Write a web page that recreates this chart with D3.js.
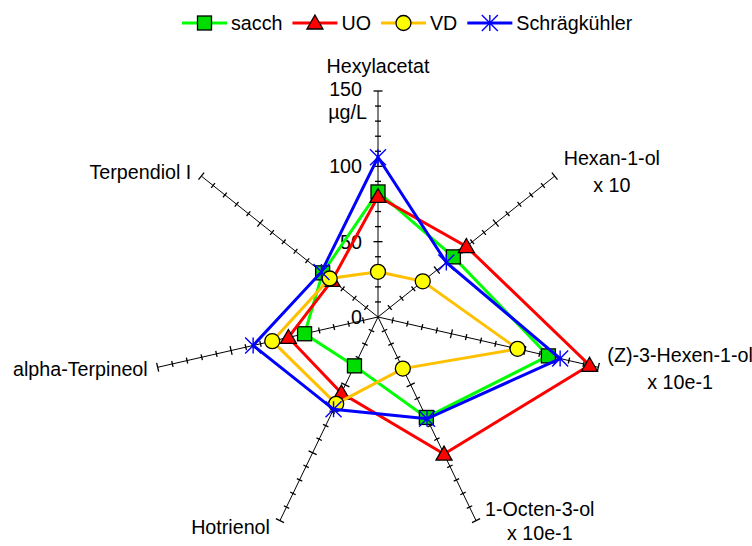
<!DOCTYPE html>
<html><head><meta charset="utf-8">
<script src="https://cdn.jsdelivr.net/npm/d3@7"></script>
<style>
html,body{margin:0;padding:0;background:#fff;}
svg{display:block;font-family:"Liberation Sans",Arial,sans-serif;}
</style></head>
<body><svg id="chart" width="752" height="546"></svg>
<script>
const categories = ["Hexylacetat", "Hexan-1-ol", "(Z)-3-Hexen-1-ol", "1-Octen-3-ol", "Hotrienol", "alpha-Terpineol", "Terpendiol I"];
const categoryFactors = ["", "x 10", "x 10e-1", "x 10e-1", "", "", ""];
const seriesNames = ["sacch", "UO", "VD", "Schrägkühler"];
const sacch = [83, 64, 116, 74, 36, 50, 47];
const uo = [80, 75, 144, 101, 56, 61, 39];
const vd = [30, 38, 95, 38, 64, 72, 41];
const schraeg = [106, 58, 124, 75, 68, 85, 48];
const tickLabels = [0, 50, 100, 150];
const unitLabel = "µg/L";

const svg = d3.select("#chart");
const cx = 378, cy = 317, R = 226, FS = 19.7;
const r = d3.scaleLinear().domain([0, 150]).range([0, R]);
const n = categories.length;
const ang = i => i * 2 * Math.PI / n;
const pt = (i, v) => [cx + r(v) * Math.sin(ang(i)), cy - r(v) * Math.cos(ang(i))];

const styles = [
  {line: "#00ff00", fill: "#00dd00", sym: "square"},
  {line: "#ff0000", fill: "#ff0000", sym: "triangle"},
  {line: "#ffc000", fill: "#ffff00", sym: "circle"},
  {line: "#0000ff", fill: "none", sym: "star"}
];
const seriesData = [sacch, uo, vd, schraeg];

// axes
const axG = svg.append("g");
const minorTicks = d3.range(10, 151, 10);
categories.forEach((c, i) => {
  const e = pt(i, 150);
  axG.append("line").attr("x1", cx).attr("y1", cy).attr("x2", e[0]).attr("y2", e[1])
    .attr("stroke", "#000").attr("stroke-width", 1);
  const a = ang(i);
  const px = Math.cos(a), py = Math.sin(a);
  minorTicks.forEach(t => {
    const p = pt(i, t);
    const h = (t % 50 === 0) ? 4.5 : 3;
    axG.append("line").attr("x1", p[0] - px * h).attr("y1", p[1] - py * h)
      .attr("x2", p[0] + px * h).attr("y2", p[1] + py * h)
      .attr("stroke", "#000").attr("stroke-width", 1.3);
  });
});

// value labels on top axis
tickLabels.forEach(t => {
  const top = t === 150 ? -2 : 0;
  svg.append("text").attr("x", 362).attr("y", cy - r(t) + top).attr("dy", "0.36em")
    .attr("text-anchor", "end").attr("font-size", FS).text(t);
});
svg.append("text").attr("x", 367).attr("y", cy - r(150) + 28)
  .attr("text-anchor", "end").attr("font-size", FS).text(unitLabel);

// category labels
categories.forEach((c, i) => {
  const e = pt(i, 150);
  const dx = Math.sin(ang(i)), dy = -Math.cos(ang(i));
  const lines = categoryFactors[i] ? [c, categoryFactors[i]] : [c];
  let lh = 27;
  const g = svg.append("g");
  if (i === 0) {
    g.append("text").attr("x", e[0]).attr("y", e[1] - 18).attr("text-anchor", "middle")
      .attr("font-size", FS).text(c);
    return;
  }
  let blockMid = e[1] + 7 * dy;
  let y0 = blockMid - (lines.length - 1) * lh / 2;
  const lastMid = y0 + (lines.length - 1) * lh;
  if (lastMid > 533) { lh = 24; y0 = 533 - (lines.length - 1) * lh; }
  if (dx > 0) {
    const t0 = g.append("text").attr("font-size", FS).text(lines[0]);
    const w = t0.node().getComputedTextLength();
    const mid = e[0] + 9 + w / 2;
    t0.remove();
    lines.forEach((l, k) => {
      g.append("text").attr("x", mid).attr("y", y0 + k * lh).attr("dy", "0.36em")
        .attr("text-anchor", "middle").attr("font-size", FS).text(l);
    });
  } else {
    lines.forEach((l, k) => {
      g.append("text").attr("x", e[0] - 10).attr("y", y0 + k * lh).attr("dy", "0.36em")
        .attr("text-anchor", "end").attr("font-size", FS).text(l);
    });
  }
});

function drawMarker(g, x, y, s) {
  if (s.sym === "square") {
    g.append("rect").attr("x", x - 7).attr("y", y - 7).attr("width", 14).attr("height", 14)
      .attr("fill", s.fill).attr("stroke", "#000").attr("stroke-width", 1.3);
  } else if (s.sym === "triangle") {
    g.append("path").attr("d", `M${x},${y - 8}L${x + 8},${y + 6}L${x - 8},${y + 6}Z`)
      .attr("fill", s.fill).attr("stroke", "#000").attr("stroke-width", 1.3);
  } else if (s.sym === "circle") {
    g.append("circle").attr("cx", x).attr("cy", y).attr("r", 7.5)
      .attr("fill", s.fill).attr("stroke", "#000").attr("stroke-width", 1.3);
  } else {
    const h = 8;
    g.append("path").attr("d", `M${x - h},${y - h}L${x + h},${y + h}M${x - h},${y + h}L${x + h},${y - h}M${x},${y - h}L${x},${y + h}`)
      .attr("stroke", s.line).attr("stroke-width", 1.4).attr("fill", "none");
  }
}

// series
const line = d3.line().curve(d3.curveLinearClosed);
seriesData.forEach((vals, si) => {
  const s = styles[si];
  const g = svg.append("g");
  const pts = vals.map((v, i) => pt(i, v));
  g.append("path").attr("d", line(pts)).attr("fill", "none")
    .attr("stroke", s.line).attr("stroke-width", 3).attr("stroke-linejoin", "miter");
  pts.forEach(p => drawMarker(g, p[0], p[1], s));
});

// legend
let lx = 182;
const ly = 23;
seriesNames.forEach((name, si) => {
  const s = styles[si];
  const g = svg.append("g");
  g.append("line").attr("x1", lx).attr("y1", ly).attr("x2", lx + 45).attr("y2", ly)
    .attr("stroke", s.line).attr("stroke-width", 3);
  drawMarker(g, lx + 22.5, ly, s);
  const t = g.append("text").attr("x", lx + 49).attr("y", ly).attr("dy", "0.36em")
    .attr("font-size", FS).text(name);
  lx = lx + 49 + t.node().getComputedTextLength() + 10;
});
</script></body></html>
